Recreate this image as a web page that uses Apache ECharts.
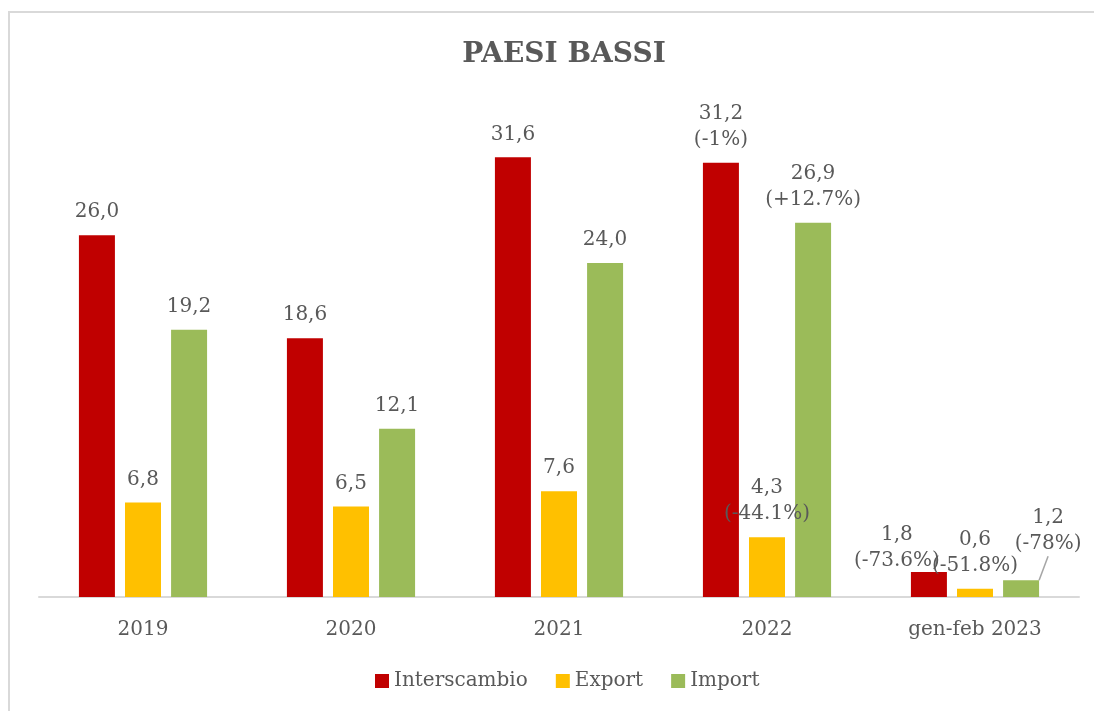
<!DOCTYPE html>
<html>
<head>
<meta charset="utf-8">
<script src="https://cdn.jsdelivr.net/npm/echarts@6/dist/echarts.min.js"></script>
<style>
  html, body { margin: 0; padding: 0; background: #fff; }
  #chart { width: 1094px; height: 711px; }
</style>
</head>
<body>
<div id="chart"></div>
<script>
const categories = ['2019', '2020', '2021', '2022', 'gen-feb 2023'];
const interscambio = [26.0, 18.6, 31.6, 31.2, 1.8];
const exportVals = [6.8, 6.5, 7.6, 4.3, 0.6];
const importVals = [19.2, 12.1, 24.0, 26.9, 1.2];
// variazioni percentuali mostrate sotto il valore
const interscambioVar = ['', '', '', '-1%', '-73.6%'];
const exportVar = ['', '', '', '-44.1%', '-51.8%'];
const importVar = ['', '', '', '+12.7%', '-78%'];

const FONT = '"DejaVu Serif", "Liberation Serif", serif';
const TEXT = '#595959';

function fmt(v, variation) {
  let s = v.toFixed(1).replace('.', ',');
  if (variation) s += '\n(' + variation + ')';
  return s;
}

function makeSeries(name, values, vars, color, moves, lineIdx) {
  return {
    name: name,
    type: 'bar',
    barWidth: 36,
    barGap: '28%',
    itemStyle: { color: color },
    label: {
      show: true,
      position: 'top',
      distance: 10,
      color: TEXT,
      fontFamily: FONT,
      fontSize: 20,
      lineHeight: 26,
      formatter: p => fmt(values[p.dataIndex], vars[p.dataIndex])
    },
    labelLine: { show: false },
    labelLayout: p => moves[p.dataIndex] || {},
    data: values.map((v, i) => i === lineIdx
      ? { value: v, labelLine: { show: true, lineStyle: { color: '#a6a6a6', width: 1.5 } } }
      : v)
  };
}

const chart = echarts.init(document.getElementById('chart'));
chart.setOption({
  backgroundColor: '#fff',
  animation: false,
  graphic: [{
    type: 'polyline',
    shape: { points: [[9, 720], [9, 12], [1100, 12]] },
    style: { fill: 'none', stroke: '#d9d9d9', lineWidth: 2 },
    silent: true
  }],
  title: {
    text: 'PAESI BASSI',
    left: 559,
    top: 36,
    textAlign: 'center',
    textStyle: { fontFamily: FONT, fontWeight: 'bold', fontSize: 28, color: TEXT }
  },
  legend: {
    bottom: 15,
    left: 370,
    itemWidth: 14,
    itemHeight: 14,
    itemGap: 28,
    icon: 'rect',
    textStyle: { fontFamily: FONT, fontSize: 20, color: TEXT },
    data: ['Interscambio', 'Export', 'Import']
  },
  grid: { left: 39, right: 15, top: 110, bottom: 114 },
  xAxis: {
    type: 'category',
    data: categories,
    axisLine: { lineStyle: { color: '#d9d9d9', width: 2 } },
    axisTick: { show: false },
    axisLabel: { color: TEXT, fontFamily: FONT, fontSize: 20, margin: 23 }
  },
  yAxis: {
    type: 'value',
    min: 0,
    max: 35,
    show: false,
    splitLine: { show: false }
  },
  series: [
    makeSeries('Interscambio', interscambio, interscambioVar, '#C00000', { 4: { dx: -32, dy: 12 } }, -1),
    makeSeries('Export', exportVals, exportVar, '#FFC000', {}, -1),
    makeSeries('Import', importVals, importVar, '#9BBB59', { 4: { dx: 27, dy: -14 } }, 4)
  ]
});
</script>
</body>
</html>
